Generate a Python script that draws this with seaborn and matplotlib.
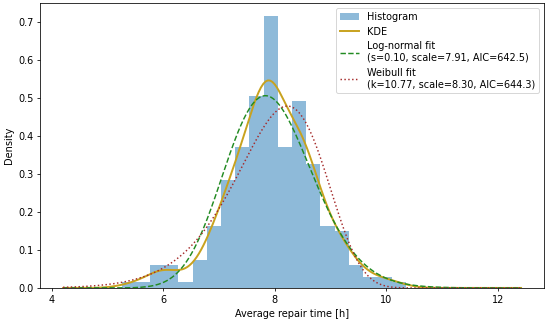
import numpy as np
import pandas as pd
import matplotlib as mpl
mpl.use('Agg')
import matplotlib.pyplot as plt
import seaborn as sns

# histogram: 20 bins, counts per bin
bin_lo = 5.25
bin_w = 0.255
counts = [1, 1, 4, 4, 1, 5, 11, 19, 25, 34, 48, 25, 33, 22, 11, 10, 4, 2, 2, 1]

# fitted parameters printed in the legend
ln_s, ln_scale, ln_aic = 0.10, 7.91, 642.5
wb_k, wb_scale, wb_aic = 10.77, 8.30, 644.3

# range of the fitted curves
x_lo, x_hi = 4.2, 12.42

edges = bin_lo + bin_w * np.arange(len(counts) + 1)
centers = (edges[:-1] + edges[1:]) / 2
# one value per observation, at its bin centre
df = pd.DataFrame({'t': np.repeat(centers, counts)})

x = np.linspace(x_lo, x_hi, 500)
pdf_ln = np.exp(-(np.log(x / ln_scale)) ** 2 / (2 * ln_s ** 2)) / (x * ln_s * np.sqrt(2 * np.pi))
pdf_wb = (wb_k / wb_scale) * (x / wb_scale) ** (wb_k - 1) * np.exp(-(x / wb_scale) ** wb_k)

fig, ax = plt.subplots(figsize=(550 / 70, 321 / 70), dpi=70)
sns.histplot(data=df, x='t', bins=edges.tolist(), stat='density',
             color='tab:blue', alpha=0.5, linewidth=0, label='Histogram', ax=ax)
sns.kdeplot(data=df, x='t', color='#c8a21e', linewidth=2,
            cut=10, clip=(x_lo, x_hi), label='KDE', ax=ax)
sns.lineplot(x=x, y=pdf_ln, color='forestgreen', linestyle='--', linewidth=1.5,
             label=f'Log-normal fit\n(s={ln_s:.2f}, scale={ln_scale:.2f}, AIC={ln_aic:.1f})', ax=ax)
sns.lineplot(x=x, y=pdf_wb, color='brown', linestyle=':', linewidth=1.5,
             label=f'Weibull fit\n(k={wb_k:.2f}, scale={wb_scale:.2f}, AIC={wb_aic:.1f})', ax=ax)

ax.set_xlabel('Average repair time [h]')
ax.set_ylabel('Density')

# histogram first in the legend
h, l = ax.get_legend_handles_labels()
order = [l.index('Histogram')] + [i for i in range(len(l)) if l[i] != 'Histogram']
ax.legend([h[i] for i in order], [l[i] for i in order], loc='upper right')

plt.subplots_adjust(left=0.073, right=0.989, top=0.991, bottom=0.103)
plt.savefig('out.png', dpi=70)
